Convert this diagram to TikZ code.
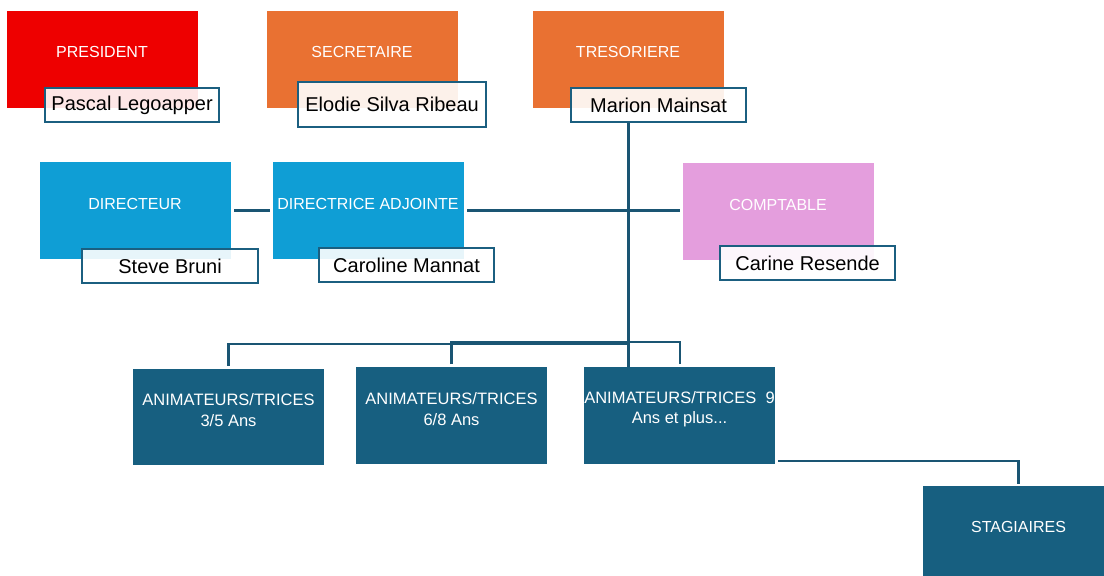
\documentclass[tikz,border=0pt]{standalone}
\usepackage{fontspec}
\setmainfont{Liberation Sans}
\begin{document}
\begin{tikzpicture}[x=1pt,y=-1pt,
  role/.style={rectangle, draw=none, inner sep=0pt, minimum width=191pt, minimum height=97pt, anchor=north west},
  rolet/.style={text=white, font=\fontsize{16}{18}\selectfont, align=center},
  animt/.style={text=white, font=\fontsize{16.5}{20.5}\selectfont, align=center},
  namebox/.style={rectangle, draw=accblue, line width=2.2pt, fill=white, fill opacity=0.9, text opacity=1, text=black, inner sep=0pt, anchor=north west, font=\fontsize{20}{22}\selectfont},
  conn/.style={draw=lineblue, line width=2.8pt}]
\definecolor{pres}{HTML}{EE0000}
\definecolor{orng}{HTML}{E97132}
\definecolor{sky}{HTML}{0F9ED5}
\definecolor{pink}{HTML}{E49EDD}
\definecolor{dark}{HTML}{175F80}
\definecolor{accblue}{HTML}{1B5F80}
\definecolor{lineblue}{HTML}{1A5573}
\clip (0,0) rectangle (1104,576);
\fill[white] (0,0) rectangle (1104,576);
% top row
\node[role, fill=pres] (pres) at (7,11) {};
\node[rolet] (prest) at (102,52) {PRESIDENT};
\node[role, fill=orng] (secr) at (267,11) {};
\node[rolet] (secrt) at (362,52) {SECRETAIRE};
\node[role, fill=orng] (treso) at (533,11) {};
\node[rolet] (tresot) at (628,52) {TRESORIERE};
% middle row
\node[role, fill=sky] (dir) at (40,162) {};
\node[rolet] (dirt) at (135,204) {DIRECTEUR};
\node[role, fill=sky] (dira) at (273,162) {};
\node[rolet] (dirat) at (368,204) {DIRECTRICE ADJOINTE};
\node[role, fill=pink] (compt) at (683,163) {};
\node[rolet] (comptt) at (778,205) {COMPTABLE};
% bottom row
\node[role, fill=dark, minimum height=96pt] (anim1) at (133,369) {};
\node[animt] (anim1t) at (228.5,410) {ANIMATEURS/TRICES\\3/5 Ans};
\node[role, fill=dark] (anim2) at (356,367) {};
\node[animt] (anim2t) at (451.5,409) {ANIMATEURS/TRICES\\6/8 Ans};
\node[role, fill=dark] (anim3) at (584,367) {};
\node[animt] (anim3t) at (679.5,409) {ANIMATEURS/TRICES~~9\\Ans et plus...};
\node[role, fill=dark] (stag) at (923,486) {};
\node[rolet] (stagt) at (1018.5,527) {STAGIAIRES};
% name boxes
\node[namebox, minimum width=174pt, minimum height=34pt] (n1) at (44,87) {Pascal Legoapper};
\node[namebox, minimum width=188pt, minimum height=45pt] (n2) at (297,81) {Elodie Silva Ribeau};
\node[namebox, minimum width=175pt, minimum height=34pt] (n3) at (570,87) {Marion Mainsat};
\node[namebox, minimum width=176pt, minimum height=34pt] (n4) at (81,248) {Steve Bruni};
\node[namebox, minimum width=175pt, minimum height=34pt] (n5) at (318,247) {Caroline Mannat};
\node[namebox, minimum width=175pt, minimum height=34pt] (n6) at (719,245) {Carine Resende};
% connectors
\coordinate (trunktop) at (n3.south -| treso.south);
\coordinate (trunkbot) at (anim3.north -| treso.south);
\draw[conn] (trunktop) -- (trunkbot);
\draw[conn, shorten <=3pt, shorten >=3pt] (dir.east) -- (dira.west);
\draw[conn, shorten <=3pt, shorten >=3pt] (dira.east) -- (compt.west |- dira.east);
\coordinate (busA) at (628,344);
\draw[conn, shorten >=3pt] (busA) -| (anim1.north);
\coordinate (busB) at (680,342);
\draw[conn, shorten <=3pt, shorten >=3pt] (anim2.north) |- (busB) -- (anim3.north -| busB);
\coordinate (stagA) at (778,461);
\draw[conn, shorten >=2pt] (stagA) -| (stag.north);
\end{tikzpicture}
\end{document}
